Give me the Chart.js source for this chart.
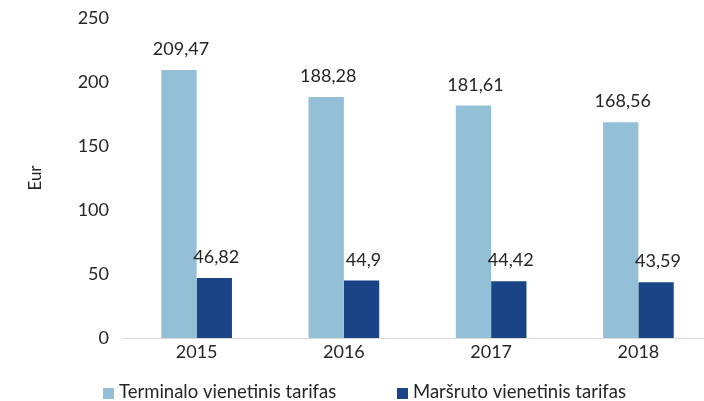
<!DOCTYPE html>
<html>
<head>
<meta charset="utf-8">
<script src="https://cdn.jsdelivr.net/npm/chart.js@4"></script>
<style>
  html, body { margin: 0; padding: 0; overflow: hidden; background: #fff; }
  #wrap { width: 712px; height: 401px; }
</style>
</head>
<body>
<div id="wrap"><canvas id="chart"></canvas></div>
<script>
const years = ['2015', '2016', '2017', '2018'];
const terminalo = [209.47, 188.28, 181.61, 168.56];
const marsruto = [46.82, 44.9, 44.42, 43.59];
const seriesNames = ['Terminalo vienetinis tarifas', 'Maršruto vienetinis tarifas'];
const yTicks = [0, 50, 100, 150, 200, 250];

const FONT = 'Lato';
const TXT = '#262626';

const fmt = v => String(v).replace('.', ',');

// value labels above bars + legend under the axis
const extras = {
  id: 'extras',
  afterDatasetsDraw(chart) {
    const ctx = chart.ctx;
    ctx.save();
    ctx.fillStyle = TXT;
    ctx.font = '18px ' + FONT;
    ctx.textAlign = 'center';
    ctx.textBaseline = 'alphabetic';
    chart.data.datasets.forEach((ds, i) => {
      chart.getDatasetMeta(i).data.forEach((bar, j) => {
        ctx.fillText(fmt(ds.data[j]), bar.x + 2, bar.y - 15);
      });
    });

    // legend
    const starts = [103, 397];
    ctx.textAlign = 'left';
    ctx.font = '18.5px ' + FONT;
    chart.data.datasets.forEach((ds, i) => {
      ctx.fillStyle = ds.backgroundColor;
      ctx.fillRect(starts[i], 388, 11, 11);
      ctx.fillStyle = TXT;
      ctx.fillText(ds.label, starts[i] + 16, 398);
    });
    ctx.restore();
  }
};

new Chart(document.getElementById('chart'), {
  type: 'bar',
  data: {
    labels: years,
    datasets: [
      { label: seriesNames[0], data: terminalo, backgroundColor: '#93bfd7' },
      { label: seriesNames[1], data: marsruto, backgroundColor: '#1a4486' }
    ]
  },
  options: {
    responsive: true,
    maintainAspectRatio: false,
    animation: false,
    layout: { padding: { top: 18, right: 0, bottom: 30, left: 0 } },
    datasets: {
      bar: { categoryPercentage: 0.48, barPercentage: 1.0 }
    },
    plugins: {
      legend: { display: false },
      tooltip: { enabled: false }
    },
    scales: {
      x: {
        grid: { display: false, drawTicks: false },
        border: { display: true, color: '#d9d9d9', width: 1 },
        ticks: { color: TXT, font: { family: FONT, size: 18 }, padding: 3 },
        afterFit(scale) { scale.height = 33; }
      },
      y: {
        min: 0,
        max: 250,
        afterBuildTicks(scale) { scale.ticks = yTicks.map(v => ({ value: v })); },
        grid: { display: false, drawTicks: false },
        border: { display: false },
        ticks: { color: TXT, font: { family: FONT, size: 18 }, padding: 14 },
        title: {
          display: true,
          text: 'Eur',
          color: TXT,
          font: { family: FONT, size: 17 },
          padding: { top: 25, bottom: 0 }
        },
        afterFit(scale) {
          scale.width = 123;
          scale.paddingTop = 0;
          scale.paddingBottom = 0;
        }
      }
    }
  },
  plugins: [extras]
});
</script>
</body>
</html>
